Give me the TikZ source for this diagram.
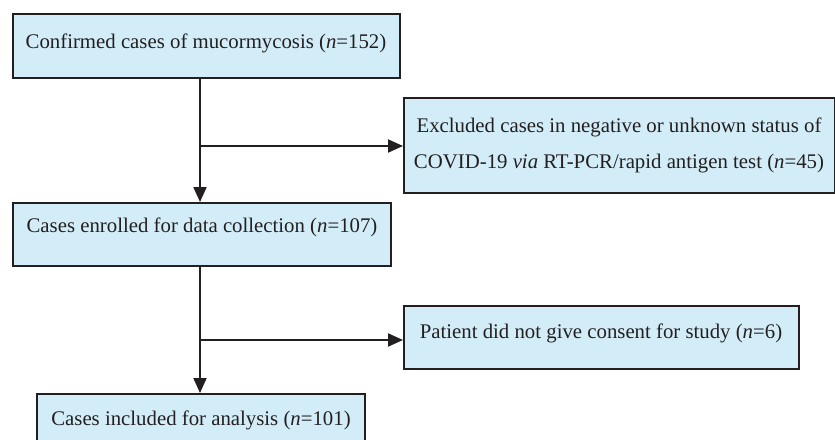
\documentclass[tikz,border=0pt]{standalone}
\usepackage{fontspec}
\setmainfont{Liberation Serif}
\usetikzlibrary{arrows.meta}
\definecolor{boxfill}{RGB}{210,237,248}
\definecolor{ink}{RGB}{35,31,32}
\begin{document}
\begin{tikzpicture}[x=1pt,y=-1pt,
  box/.style={draw=ink,line width=2pt,fill=boxfill,inner sep=0pt},
  txt/.style={font=\fontsize{20.8}{36}\selectfont,text=ink,inner sep=0pt,align=center},
  conn/.style={draw=ink,line width=2pt},
  arr/.style={conn,-{Triangle[length=15pt,width=13pt]}}]
\useasboundingbox (0,0) rectangle (835,439);
\clip (0,0) rectangle (835,439);
% boxes
\node[box,minimum width=387pt,minimum height=64pt] (b1) at (206.5,46) {};
\node[box,minimum width=431pt,minimum height=95pt] (b2) at (619.5,145.5) {};
\node[box,minimum width=378pt,minimum height=63pt] (b3) at (202,234.5) {};
\node[box,minimum width=395pt,minimum height=63pt] (b4) at (601.5,337.5) {};
\node[box,minimum width=328pt,minimum height=62pt] (b5) at (201,425) {};
% texts
\node[txt] (t1) at (206,43) {Confirmed cases of mucormycosis (\textit{n}=152)};
\node[txt] (t2) at (619,145) {Excluded cases in negative or unknown status of\\COVID-19 \textit{via} RT-PCR/rapid antigen test (\textit{n}=45)};
\node[txt] (t3) at (202,227) {Cases enrolled for data collection (\textit{n}=107)};
\node[txt] (t4) at (601,333) {Patient did not give consent for study (\textit{n}=6)};
\node[txt] (t5) at (201,420) {Cases included for analysis (\textit{n}=101)};
% connectors
\coordinate (j1) at (200,146);
\coordinate (j2) at (200,340);
\draw[arr] (b1.south -| j1) -- (b3.north -| j1);
\draw[arr] (j1) -- (b2.west |- j1);
\draw[arr] (b3.south -| j2) -- (b5.north -| j2);
\draw[arr] (j2) -- (b4.west |- j2);
\end{tikzpicture}
\end{document}
